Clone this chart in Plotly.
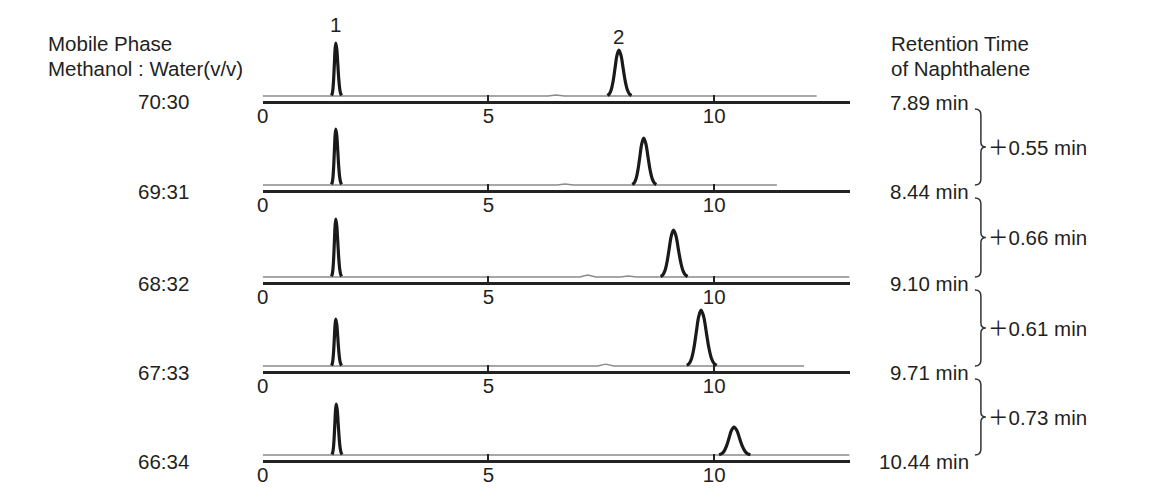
import plotly.graph_objects as go
from plotly.subplots import make_subplots

# ---------------- data ----------------
mobile_phase = ["70:30", "69:31", "68:32", "67:33", "66:34"]
rt_peak1 = [1.62, 1.62, 1.62, 1.62, 1.63]          # min, peak 1
rt_naph = [7.89, 8.44, 9.10, 9.71, 10.44]          # min, peak 2 (naphthalene)
h_peak1 = [53, 56, 58, 47, 51]                     # relative intensity
h_peak2 = [46, 47, 47, 56, 28]
w_peak1 = [0.032, 0.032, 0.032, 0.032, 0.032]      # peak width (min)
w_peak2 = [0.085, 0.085, 0.095, 0.105, 0.11]
run_end = [12.27, 11.39, 13.0, 11.99, 13.0]        # end of recorded trace (min)
minor_t = [[6.5], [6.7], [7.2, 8.1], [7.6], []]    # tiny baseline humps
minor_h = [[1.0], [1.0], [2.0, 1.0], [1.8], []]
x_ticks = [0, 5, 10]
x_max = 13
# normalised peak profile (offset in widths, relative height)
profile_k = [-3, -2.5, -2, -1.5, -1, -0.5, 0, 0.5, 1, 1.5, 2, 2.5, 3]
profile_v = [0.011, 0.044, 0.135, 0.325, 0.607, 0.882, 1.0, 0.882, 0.607, 0.325, 0.135, 0.044, 0.011]

# ---------------- layout helpers ----------------
OFF = 8                      # default page margin around the figure
W, H = 1158 - 2 * OFF, 500 - 2 * OFF
FONT = "Liberation Sans, Arial, Noto Sans CJK SC, sans-serif"
FS = 20.5
TXT = "#231f20"
axis_px = [101, 190, 282, 371, 460]
panel_h = 72
x_left, x_right = 258, 848


def px(x):
    return (x - OFF) / W


def py(y):
    return 1 - (y - OFF) / H


fig = make_subplots(rows=5, cols=1)

for i in range(5):
    r = i + 1
    # baseline (thin grey)
    bx, by = [0.0], [0.0]
    for t, h in zip(minor_t[i], minor_h[i]):
        bx += [t - 0.18, t, t + 0.18]
        by += [0.0, h, 0.0]
    bx.append(run_end[i])
    by.append(0.0)
    fig.add_trace(go.Scatter(x=bx, y=by, mode="lines", line=dict(color="#8a8a8a", width=1.3),
                             hoverinfo="skip"), row=r, col=1)
    # peaks (thick black)
    for t, h, w, tail in ((rt_peak1[i], h_peak1[i], w_peak1[i], 1.35),
                          (rt_naph[i], h_peak2[i], w_peak2[i], 1.1)):
        xs = [t + k * w * (tail if k > 0 else 1.0) for k in profile_k]
        ys = [h * v for v in profile_v]
        fig.add_trace(go.Scatter(x=xs, y=ys, mode="lines", line=dict(color="#1a1a1a", width=3.2,
                                 shape="spline"), hoverinfo="skip"), row=r, col=1)

    xa = "xaxis" if r == 1 else f"xaxis{r}"
    ya = "yaxis" if r == 1 else f"yaxis{r}"
    fig.layout[xa].update(domain=[px(x_left), px(x_right)], range=[0, x_max], tickvals=x_ticks,
                          ticks="inside", ticklen=6, tickwidth=1.6, tickcolor="#222",
                          showline=True, linecolor="#222", linewidth=2.6, showgrid=False,
                          zeroline=False, ticklabelstandoff=-5,
                          tickfont=dict(family=FONT, size=FS, color=TXT))
    fig.layout[ya].update(domain=[py(axis_px[i]), py(axis_px[i] - panel_h)], range=[-5, panel_h - 5],
                          visible=False)

annotations = []


def txt(x, y, s, xanchor="left", **kw):
    annotations.append(dict(x=px(x), y=py(y), xref="paper", yref="paper", text=s, showarrow=False,
                            xanchor=xanchor, yanchor="middle",
                            font=dict(family=FONT, size=FS, color=TXT), **kw))


txt(40, 43, "Mobile Phase")
txt(40, 68, "Methanol : Water(v/v)")
txt(888, 43, "Retention Time")
txt(888, 68, "of Naphthalene")

rt_label_y = []
for i in range(5):
    r = i + 1
    yref = "y domain" if r == 1 else f"y{r} domain"
    annotations.append(dict(x=px(158), y=0, xref="paper", yref=yref, text=mobile_phase[i],
                            showarrow=False, xanchor="center", yanchor="middle", yshift=-1,
                            font=dict(family=FONT, size=FS, color=TXT)))
    ly = axis_px[i] + 1
    rt_label_y.append(ly)
    txt(970, ly, f"{rt_naph[i]:.2f} min", xanchor="right")

# peak number labels
for n, (t, h, lift) in enumerate(((rt_peak1[0], h_peak1[0], 5), (rt_naph[0], h_peak2[0], 0)), start=1):
    annotations.append(dict(x=t, y=h, xref="x", yref="y", text=str(n), showarrow=False,
                            xanchor="center", yanchor="bottom", yshift=lift,
                            font=dict(family=FONT, size=FS, color=TXT)))

# braces with differences
shapes = []
for i in range(4):
    y0 = rt_label_y[i] + 7
    y1 = rt_label_y[i + 1] - 6
    ym = (y0 + y1) / 2
    xl, xs, xt = 974, 980, 985
    pts = [
        ("M", [(xl, y0)]),
        ("Q", [(xs, y0), (xs, y0 + 6)]),
        ("L", [(xs, ym - 5)]),
        ("Q", [(xs, ym), (xt, ym)]),
        ("Q", [(xs, ym), (xs, ym + 5)]),
        ("L", [(xs, y1 - 6)]),
        ("Q", [(xs, y1), (xl, y1)]),
    ]
    path = " ".join(cmd + " " + " ".join(f"{px(a):.5f},{py(b):.5f}" for a, b in p) for cmd, p in pts)
    shapes.append(dict(type="path", path=path, xref="paper", yref="paper",
                       line=dict(color="#333", width=1.5)))
    d = rt_naph[i + 1] - rt_naph[i]
    txt(985, ym, f"＋{d:.2f} min")

fig.update_layout(width=W, height=H, margin=dict(l=0, r=0, t=0, b=0), showlegend=False,
                  plot_bgcolor="white", paper_bgcolor="white", annotations=annotations, shapes=shapes)

fig.write_html("out.html")
